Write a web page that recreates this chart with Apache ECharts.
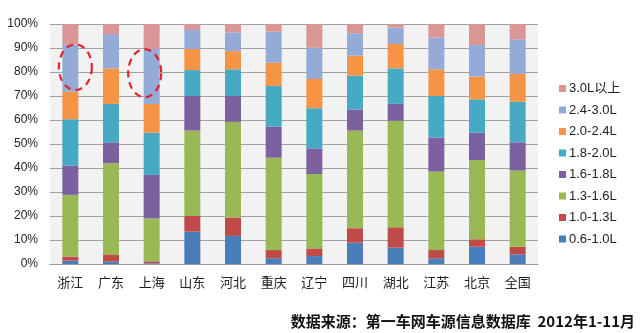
<!DOCTYPE html>
<html>
<head>
<meta charset="utf-8">
<script src="https://cdn.jsdelivr.net/npm/echarts@6/dist/echarts.min.js"></script>
<style>
  html, body { margin: 0; padding: 0; background: #fff; }
  #chart { width: 641px; height: 333px; }
</style>
</head>
<body>
<div id="chart"></div>
<script>
// Regions along the x axis
const regions = ['浙江', '广东', '上海', '山东', '河北', '重庆', '辽宁', '四川', '湖北', '江苏', '北京', '全国'];

// Share (%) of each engine displacement band per region
const d06_10 = [1.4, 1.0, 0.3, 13.5, 11.7, 2.4, 3.3, 8.9, 6.8, 2.4, 7.2, 4.0];
const d10_13 = [1.7, 3.0, 0.8, 6.5, 7.7, 3.4, 3.2, 6.0, 8.5, 3.4, 3.1, 3.2];
const d13_16 = [25.7, 38.0, 17.9, 35.6, 39.8, 38.5, 31.0, 40.7, 44.4, 32.7, 33.0, 31.7];
const d16_18 = [12.2, 8.7, 18.1, 14.4, 10.8, 12.9, 10.7, 8.8, 7.0, 14.1, 11.4, 11.8];
const d18_20 = [19.3, 16.0, 17.6, 10.8, 11.1, 17.0, 16.7, 14.1, 14.8, 17.4, 13.9, 16.9];
const d20_24 = [11.5, 14.8, 12.0, 8.8, 7.6, 9.7, 12.2, 8.3, 10.2, 11.1, 9.5, 11.6];
const d24_30 = [19.7, 14.3, 22.9, 7.9, 7.8, 12.9, 13.0, 9.3, 6.8, 13.3, 13.1, 14.4];
const d30up = [8.5, 4.2, 10.4, 2.5, 3.5, 3.2, 9.9, 3.9, 1.5, 5.6, 8.8, 6.4];

const bandNames = ['0.6-1.0L', '1.0-1.3L', '1.3-1.6L', '1.6-1.8L', '1.8-2.0L', '2.0-2.4L', '2.4-3.0L', '3.0L以上'];
const bandValues = [d06_10, d10_13, d13_16, d16_18, d18_20, d20_24, d24_30, d30up];
const bandColors = ['#4a7ebb', '#be4b48', '#98b954', '#7d60a0', '#46aac5', '#f69446', '#94abd8', '#d99694'];

// Highlighted segments: region, value span, horizontal nudge (px)
const highlights = [
  { region: '浙江', lo: 72.5, hi: 91.5, dx: 5 },
  { region: '上海', lo: 69.5, hi: 89.5, dx: -7 }
];

const font = '"Liberation Sans", Arial, "Noto Sans CJK SC", sans-serif';
const cjkFont = '"Noto Sans CJK SC", "Liberation Sans", sans-serif';

const sourceNote = {
  type: 'text',
  right: 6,
  bottom: 4,
  style: {
    text: '数据来源：第一车网车源信息数据库  2012年1-11月',
    font: 'bold 15px "Noto Sans CJK SC", sans-serif',
    fill: '#111'
  }
};

const chart = echarts.init(document.getElementById('chart'), null, { renderer: 'canvas' });

const series = bandNames.map((name, i) => ({
  name: name,
  type: 'bar',
  stack: 'total',
  barWidth: 16,
  data: bandValues[i],
  itemStyle: { color: bandColors[i] },
  emphasis: { disabled: true }
}));

chart.setOption({
  animation: false,
  grid: { left: 50, right: 103, top: 24, bottom: 69, show: true, backgroundColor: '#f2f2f2', borderWidth: 0 },
  legend: {
    orient: 'vertical',
    left: 554,
    top: 77,
    itemWidth: 7,
    itemHeight: 7,
    itemGap: 8.5,
    icon: 'rect',
    data: bandNames.slice().reverse(),
    textStyle: { fontFamily: font, fontSize: 13, color: '#222', padding: [0, 0, 0, -2] }
  },
  xAxis: {
    type: 'category',
    data: regions,
    axisTick: { show: false },
    axisLine: { lineStyle: { color: '#9a9a9a', width: 1 } },
    axisLabel: { fontFamily: cjkFont, fontSize: 13, color: '#222', margin: 12 }
  },
  yAxis: {
    type: 'value',
    min: 0,
    max: 100,
    interval: 10,
    axisLine: { show: false },
    axisTick: { show: false },
    splitLine: { lineStyle: { color: '#a0a0a0', width: 1 } },
    axisLabel: { formatter: '{value}%', fontFamily: font, fontSize: 12, color: '#222', margin: 12 }
  },
  series: series,
  graphic: [sourceNote]
});

// Dashed red ellipses around highlighted segments
function ellipsePoints(cx, cy, rx, ry) {
  const pts = [];
  for (let k = 0; k < 72; k++) {
    const a = (k / 72) * Math.PI * 2;
    pts.push([cx + rx * Math.cos(a), cy + ry * Math.sin(a)]);
  }
  return pts;
}

const marks = highlights.map(h => {
  const top = chart.convertToPixel({ xAxisIndex: 0, yAxisIndex: 0 }, [h.region, h.hi]);
  const bot = chart.convertToPixel({ xAxisIndex: 0, yAxisIndex: 0 }, [h.region, h.lo]);
  const cx = top[0] + h.dx;
  const cy = (top[1] + bot[1]) / 2;
  const ry = Math.abs(bot[1] - top[1]) / 2;
  return {
    type: 'polygon',
    z: 100,
    shape: { points: ellipsePoints(cx, cy, 16.5, ry) },
    style: { fill: 'none', stroke: '#e8202a', lineWidth: 2.2, lineDash: [7, 5] }
  };
});

chart.setOption({ graphic: [sourceNote].concat(marks) });
</script>
</body>
</html>
